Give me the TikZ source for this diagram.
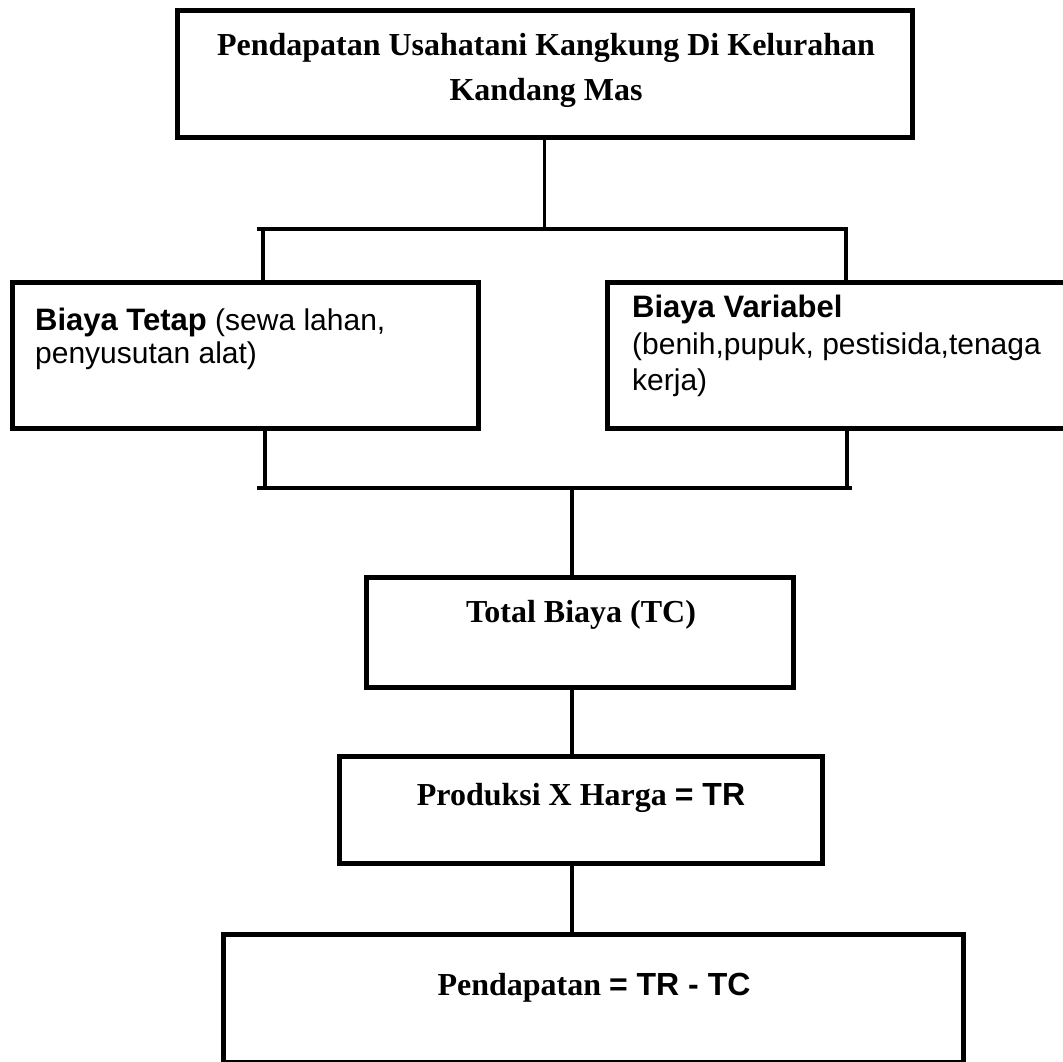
\documentclass[tikz,border=0pt]{standalone}
\usepackage{fontspec}
\setmainfont{Liberation Serif}
\setsansfont{Liberation Sans}
\begin{document}
\begin{tikzpicture}[x=1pt,y=-1pt,
  box/.style={draw=black, line width=5pt, rectangle, inner sep=0pt, outer sep=0pt, anchor=north west},
  conn/.style={draw=black, line width=3.3pt},
  bar/.style={draw=black, line width=4.5pt},
  serifb/.style={font=\fontsize{32}{45}\selectfont\bfseries, inner sep=0pt, align=center},
  sansl/.style={font=\fontsize{30}{33}\selectfont\sffamily, inner sep=0pt, align=left, anchor=north west},
  sansr/.style={font=\fontsize{30}{36.5}\selectfont\sffamily, inner sep=0pt, align=left, anchor=north west}
]
\useasboundingbox (0,0) rectangle (1063,1061);
\begin{scope}
\clip (0,0) rectangle (1063,1061);
% boxes
\node[box, minimum width=735pt, minimum height=127pt] (title) at (177,10) {};
\node[box, minimum width=466pt, minimum height=146pt] (fixed) at (12,282) {};
\node[box, minimum width=470pt, minimum height=146pt] (var) at (607,282) {};
\node[box, minimum width=427pt, minimum height=110pt] (total) at (366,577) {};
\node[box, minimum width=483pt, minimum height=107pt] (prod) at (339,756) {};
\node[box, minimum width=740pt, minimum height=128.5pt] (income) at (223,934) {};
% texts
\node[serifb, anchor=north] (titleT) at (546,33) {Pendapatan Usahatani Kangkung Di Kelurahan\\Kandang Mas};
\node[sansl] (fixedT) at (35,308) {{\fontsize{31}{33}\selectfont\bfseries Biaya Tetap} (sewa lahan,\\penyusutan alat)};
\node[sansr] (varT) at (632,295) {{\fontsize{31}{36.5}\selectfont\bfseries Biaya Variabel}\\(benih,pupuk, pestisida,tenaga\\kerja)};
\node[serifb, anchor=base] (totalT) at (581,622) {Total Biaya (TC)};
\node[serifb, anchor=base] (prodT) at (581,805) {Produksi X Harga {\sffamily = TR}};
\node[serifb, anchor=base] (incomeT) at (594,995) {Pendapatan {\sffamily = TR - TC}};
% junction coordinates
\coordinate (b1l) at (257,229);
\coordinate (b1r) at (848,229);
\coordinate (v1l) at (263,229);
\coordinate (v1r) at (846,229);
\coordinate (b2l) at (257,488);
\coordinate (b2r) at (852,488);
\coordinate (v2l) at (265,488);
\coordinate (v2r) at (847,488);
\coordinate (mid) at (572,488);
% connectors
\draw[conn] (title.south) -- (title.south |- b1l);
\draw[bar] (b1l) -- (b1r);
\draw[conn] (v1l) -- (v1l |- fixed.north);
\draw[conn] (v1r) -- (v1r |- var.north);
\draw[conn] (v2l |- fixed.south) -- (v2l);
\draw[conn] (v2r |- var.south) -- (v2r);
\draw[bar] (b2l) -- (b2r);
\draw[conn] (mid) -- (mid |- total.north);
\draw[conn] (mid |- total.south) -- (mid |- prod.north);
\draw[conn] (mid |- prod.south) -- (mid |- income.north);
\end{scope}
\end{tikzpicture}
\end{document}
